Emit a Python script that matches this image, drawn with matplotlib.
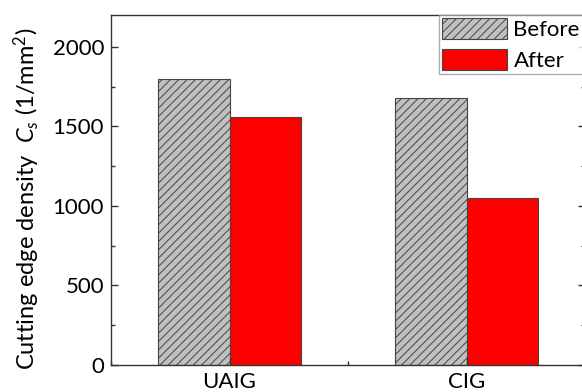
import matplotlib
matplotlib.use("Agg")
import matplotlib.pyplot as plt
from matplotlib.ticker import MultipleLocator
import numpy as np

categories = ["UAIG", "CIG"]
series_names = ["Before", "After"]
before = [1800, 1680]
after = [1560, 1050]
yticks = [0, 500, 1000, 1500, 2000]

plt.rcParams['font.family'] = ['Lato', 'DejaVu Sans']
plt.rcParams['mathtext.fontset'] = 'custom'
plt.rcParams['mathtext.rm'] = 'Lato'
plt.rcParams['mathtext.it'] = 'Lato:italic'
plt.rcParams['hatch.linewidth'] = 0.7
plt.rcParams['hatch.color'] = '#606060'

fig = plt.figure(figsize=(5.82, 3.92), dpi=100)
ax = fig.add_axes([111/582, 27/392, (585-111)/582, (365-15)/392])

x = np.arange(len(categories))
w = 0.3
ax.bar(x - w/2, before, w, color='#c0c0c0', edgecolor='#444444', linewidth=0.8,
       hatch='////', label=series_names[0])
ax.bar(x + w/2, after, w, color='#ff0000', edgecolor='#444444', linewidth=0.8,
       label=series_names[1])

ax.set_xlim(-0.5, 1.5)
ax.set_ylim(0, 2200)
ax.set_xticks(x)
ax.set_xticklabels(categories, fontsize=16)
ax.set_yticks(yticks)
ax.set_yticklabels([str(v) for v in yticks], fontsize=16)
ax.xaxis.set_minor_locator(MultipleLocator(0.5))
ax.yaxis.set_minor_locator(MultipleLocator(250))
ax.tick_params(axis='both', which='both', direction='in', right=True, color='#333333')
ax.tick_params(which='major', length=5, width=1, pad=5)
ax.tick_params(which='minor', length=3, width=1)
ax.tick_params(axis='x', which='major', pad=5)
for s in ax.spines.values():
    s.set_color('#333333')
    s.set_linewidth(1.0)

fig.text(27/582, (392-199)/392, r"Cutting edge density  $\mathit{C}_s$ (1/mm$^2$)",
         fontsize=17, rotation=90, ha='center', va='center')

leg = fig.legend(loc='upper left', bbox_to_anchor=(439/582, 377/392), fontsize=16,
                 frameon=True, fancybox=False, edgecolor='#999999', borderpad=0.15,
                 handlelength=2.9, handleheight=1.05, handletextpad=0.3,
                 labelspacing=0.4, borderaxespad=0)
leg.get_frame().set_linewidth(1.0)

fig.savefig("out.png", dpi=100)
